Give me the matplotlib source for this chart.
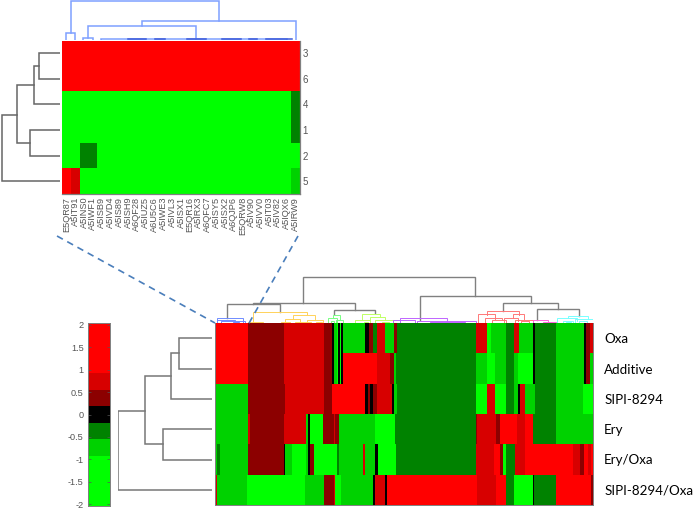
import numpy as np
import matplotlib
matplotlib.use('Agg')
import matplotlib.pyplot as plt
from matplotlib.colors import ListedColormap

W, H = 697, 508

# expression levels
R, M, D, K, G, N, B = 1.5, 0.7, 0.35, 0.0, -0.35, -0.7, -1.5

level_colors = ['#00ff00', '#00ff00', '#00ff00', '#00d200', '#008200', '#000000',
                '#8c0000', '#d70000', '#ff0000', '#ff0000', '#ff0000']

# zoomed heatmap
zoom_cols = ['E5QR87', 'A5IT91', 'A5INS0', 'A5IWF1', 'A5ISB9', 'A5IVD4', 'A5IS89', 'A5ISH9', 'A6QF28',
             'A5IUZ5', 'A6U5C6', 'A5IWE3', 'A5IVL3', 'A5ISX1', 'E5QR16', 'A5IRX3', 'A6QFC7', 'A5ISY5',
             'A5ISX2', 'A6QJP6', 'E5QRW8', 'A5IV90', 'A5IVV0', 'A5IT03', 'A5IV82', 'A5IQX6', 'A5IRW9']
zoom_rows = ['3', '6', '4', '1', '2', '5']
zoom_row3 = [R] * 27
zoom_row6 = [R] * 27
zoom_row4 = [B] * 26 + [G]
zoom_row1 = [B] * 26 + [G]
zoom_row2 = [B, B, G, G] + [B] * 23
zoom_row5 = [R, M] + [B] * 24 + [N]

# full heatmap, each row is (level, last column of the run)
full_rows = ['Oxa', 'Additive', 'SIPI-8294', 'Ery', 'Ery/Oxa', 'SIPI-8294/Oxa']
row_oxa = [(R, 33), (D, 69), (M, 109), (D, 117), (K, 119), (N, 122), (B, 123), (K, 125), (B, 126), (K, 128),
           (N, 150), (K, 154), (D, 158), (G, 162), (M, 170), (N, 179), (D, 182), (G, 261), (M, 272), (B, 276),
           (N, 291), (G, 299), (M, 304), (N, 318), (K, 320), (G, 341), (N, 369), (K, 371), (D, 375), (M, 378)]
row_add = [(R, 33), (D, 69), (M, 109), (D, 117), (K, 119), (N, 122), (B, 123), (K, 125), (B, 126), (K, 128),
           (R, 162), (M, 175), (D, 179), (N, 181), (G, 261), (N, 272), (B, 280), (N, 291), (G, 299), (N, 303),
           (B, 318), (K, 320), (G, 341), (N, 369), (K, 371), (D, 375), (N, 378)]
row_sipi = [(N, 33), (D, 70), (M, 109), (D, 117), (R, 150), (K, 153), (D, 155), (K, 158), (D, 162), (M, 177),
            (K, 179), (N, 182), (G, 261), (B, 272), (M, 280), (B, 291), (G, 299), (N, 303), (K, 305), (M, 310),
            (N, 320), (G, 341), (N, 368), (B, 378)]
row_ery = [(N, 33), (M, 35), (D, 69), (M, 91), (N, 93), (K, 95), (B, 108), (D, 119), (M, 120), (D, 124),
           (N, 160), (B, 180), (G, 261), (D, 262), (M, 281), (D, 285), (R, 302), (M, 310), (R, 318), (G, 341),
           (N, 378)]
row_eryoxa = [(N, 2), (G, 5), (N, 33), (D, 69), (K, 70), (N, 77), (B, 91), (N, 93), (K, 95), (D, 99), (B, 122),
              (G, 124), (N, 148), (M, 150), (N, 160), (K, 163), (B, 181), (G, 261), (M, 279), (R, 285), (D, 288),
              (B, 291), (G, 300), (M, 310), (R, 358), (M, 365), (D, 369), (R, 373), (M, 376), (R, 378)]
row_sipioxa = [(D, 1), (M, 2), (N, 32), (B, 90), (N, 109), (D, 119), (M, 120), (B, 126), (N, 158), (K, 160),
               (M, 170), (K, 172), (R, 262), (M, 281), (R, 291), (G, 299), (B, 318), (K, 319), (G, 341), (R, 376),
               (D, 378)]

# row dendrograms: (child a, height a, child b, height b, merge height)
zoom_side = [(0.5, 0, 1.5, 0, 20.7), (1.0, 20.7, 2.5, 0, 26), (3.5, 0, 4.5, 0, 30.3),
             (1.75, 26, 4.0, 30.3, 42.7), (2.9, 42.7, 5.5, 0, 58.3)]
full_side = [(0.5, 0, 1.5, 0, 32.7), (1.0, 32.7, 2.5, 0, 41.3), (3.5, 0, 4.5, 0, 48.7),
             (1.75, 41.3, 4.0, 48.7, 67.3), (2.9, 67.3, 5.5, 0, 93.7)]

# column dendrograms
zoom_top = [(1.0, 7, 17.8, 19, 39), (9.1, 14, 26.5, 0, 19), (2.95, 1.7, 15.2, 0.8, 14),
            (2.4, 0, 3.5, 0, 1.7), (0.5, 0, 1.5, 0, 7), (4.4, 0, 25.5, 0, 0.8)]
zoom_top_dark = [(7.5, 0.6, 9.5, 0.6, 0.6), (10.5, 0.6, 11.7, 0.6, 0.6), (14.2, 0.6, 16.3, 0.6, 0.6),
                 (18.2, 0.6, 20.3, 0.6, 0.6), (21.2, 0.6, 22.1, 0.6, 0.6), (23.1, 0.6, 26.1, 0.6, 0.6)]

full_gray = [(88, 20.3, 260, 27, 46.3), (38, 18.7, 140, 13, 20.3), (12, 5, 65, 11.3, 18.7), (119, 9, 160, 9.7, 13),
             (205, 3, 316, 19.7, 27), (288, 12.3, 343, 14, 19.7), (322, 3, 364, 7, 14)]
full_blue = [(2, 3.5, 28, 0, 5), (2, 0, 20, 2.5, 3.5), (6, 0, 30, 0, 2.5), (18, 0, 24, 0, 1)]
full_orange = [(38, 1, 92, 8, 11.3), (33, 0, 48, 0, 1), (78, 4, 100, 3.5, 8), (70, 1.5, 85, 1.5, 4),
               (92, 1.5, 108, 1.5, 3.5), (66, 0, 75, 0, 1.5), (80, 0, 90, 0, 1.5), (90, 0, 96, 0, 1.5),
               (101, 0, 107, 0, 1.5)]
full_green = [(118, 5, 125, 3, 8.5), (113, 0, 122, 0, 5), (121, 0, 128, 0, 3), (116, 0, 119, 0, 2.5)]
full_lime = [(147, 3.5, 165, 6, 9.5), (140, 0, 155, 0, 3.5), (155, 0, 170, 3, 6), (160, 0, 178, 0, 3),
             (149, 0, 153, 0, 1.5), (167, 0, 174, 0, 1.5)]
full_purple = [(185, 0, 232, 2.3, 4.7), (202, 0, 261, 0, 2.3), (178, 0, 200, 0, 3.5), (215, 0, 250, 0, 1)]
full_red = [(272, 8, 304, 8, 12.3), (263, 0, 280, 4.5, 9), (298, 5, 309, 4.5, 9), (270, 0, 287, 3, 5.5),
            (277, 0, 291, 0, 3), (289, 0, 303, 2.5, 5), (300, 0, 318, 0, 3.5), (306, 0, 314, 0, 2)]
full_magenta = [(318, 0, 333, 1, 3), (328, 0, 341, 0, 1)]
full_cyan = [(353, 5, 373, 4, 7), (342, 0, 362, 2.5, 5), (360, 0, 378, 0, 4), (348, 0, 358, 0, 2.5),
             (364, 0, 372, 0, 2), (351, 0, 356, 0, 1)]

# colorbar
bar_ticks = [2, 1.5, 1, 0.5, 0, -0.5, -1, -1.5, -2]
bar_labels = ['2', '1.5', '1', '0.5', '0', '-0.5', '-1', '-1.5', '-2']


def add_px_axes(x0, y0, x1, y1):
    return fig.add_axes([x0 / W, 1 - y1 / H, (x1 - x0) / W, (y1 - y0) / H])


def expand_row(runs):
    out = []
    start = 0
    for val, end in runs:
        out += [val] * (end - start)
        start = end
    return out


def draw_top(ax, merges, color, lw=0.9):
    for x1, h1, x2, h2, top in merges:
        ax.plot([x1, x1, x2, x2], [h1, top, top, h2], color=color, lw=lw, solid_joinstyle='miter')


def draw_side(ax, merges, color, lw=1.1):
    for y1, h1, y2, h2, top in merges:
        ax.plot([h1, top, top, h2], [y1, y1, y2, y2], color=color, lw=lw, solid_joinstyle='miter')


fig = plt.figure(figsize=(W / 100, H / 100), dpi=100)
fig.set_facecolor('white')
plt.rcParams['font.family'] = ['Liberation Sans', 'DejaVu Sans']
cmap = ListedColormap(level_colors)
gray_txt = '#555555'
frame = '#808080'

# zoomed heatmap
ax1 = add_px_axes(62, 40.5, 300, 194)
zoom_data = np.array([zoom_row3, zoom_row6, zoom_row4, zoom_row1, zoom_row2, zoom_row5])
ax1.imshow(zoom_data, cmap=cmap, vmin=-2, vmax=2, aspect='auto', interpolation='nearest')
ax1.set_xticks(range(len(zoom_cols)))
ax1.set_xticklabels(zoom_cols, rotation=90, fontsize=6.6, color=gray_txt)
ax1.yaxis.tick_right()
ax1.set_yticks(range(len(zoom_rows)))
ax1.set_yticklabels(zoom_rows, fontsize=7, color=gray_txt)
ax1.tick_params(length=0, pad=2)
for s in ax1.spines.values():
    s.set_color(frame)
    s.set_linewidth(0.9)
ax1.spines['top'].set_visible(False)
ax1.spines['left'].set_visible(False)

ax1s = add_px_axes(0, 40.5, 60, 194)
draw_side(ax1s, zoom_side, '#666666')
ax1s.set_xlim(60, 0)
ax1s.set_ylim(6, 0)
ax1s.axis('off')

ax1t = add_px_axes(62, 0, 300, 40)
draw_top(ax1t, zoom_top, '#7fa0ff', lw=1.1)
draw_top(ax1t, zoom_top_dark, '#3c5ad8', lw=1.1)
ax1t.set_xlim(0, 27)
ax1t.set_ylim(0, 40)
ax1t.axis('off')

# full heatmap
ax2 = add_px_axes(215, 323, 593, 505)
full_data = np.array([expand_row(r) for r in [row_oxa, row_add, row_sipi, row_ery, row_eryoxa, row_sipioxa]])
ax2.imshow(full_data, cmap=cmap, vmin=-2, vmax=2, aspect='auto', interpolation='nearest')
ax2.yaxis.tick_right()
ax2.set_xticks([])
ax2.set_yticks(range(len(full_rows)))
ax2.set_yticklabels(full_rows, fontsize=9.6, color='black', family=['Lato', 'DejaVu Sans'])
ax2.tick_params(length=0, pad=8)
for s in ax2.spines.values():
    s.set_color(frame)
    s.set_linewidth(0.7)
ax2.spines['top'].set_visible(False)

ax2s = add_px_axes(118, 323, 212, 505)
draw_side(ax2s, full_side, '#777777')
ax2s.set_xlim(94, 0)
ax2s.set_ylim(6, 0)
ax2s.axis('off')

ax2t = add_px_axes(215, 270, 593, 323)
draw_top(ax2t, full_gray, '#808080', lw=1.0)
draw_top(ax2t, full_blue, '#6f8cff', lw=0.7)
draw_top(ax2t, full_orange, '#ffd25a', lw=0.7)
draw_top(ax2t, full_green, '#78ff82', lw=0.7)
draw_top(ax2t, full_lime, '#beff64', lw=0.7)
draw_top(ax2t, full_purple, '#be64ff', lw=0.7)
draw_top(ax2t, full_red, '#ff7878', lw=0.7)
draw_top(ax2t, full_magenta, '#ff64dc', lw=0.7)
draw_top(ax2t, full_cyan, '#78ffff', lw=0.7)
ax2t.set_xlim(0, 378)
ax2t.set_ylim(0, 53)
ax2t.axis('off')

# colorbar
ax3 = add_px_axes(88, 323, 110, 506)
ax3.imshow(np.linspace(2, -2, 11).reshape(-1, 1), cmap=cmap, vmin=-2, vmax=2, aspect='auto',
           interpolation='nearest', extent=[0, 1, -2.04, 2.04])
ax3.set_xticks([])
ax3.set_yticks(bar_ticks)
ax3.set_yticklabels(bar_labels, fontsize=6.6, color=gray_txt)
ax3.tick_params(axis='y', direction='in', length=2, width=0.5, color='#555555', pad=3, right=True)
for s in ax3.spines.values():
    s.set_color(frame)
    s.set_linewidth(0.7)

# dashed lines from the full heatmap up to the zoomed part
over = fig.add_axes([0, 0, 1, 1], facecolor='none')
over.plot([57, 215], [236, 323], color='#4a7ebb', lw=1.2, ls=(0, (4, 3)))
over.plot([298, 248], [236, 325], color='#4a7ebb', lw=1.2, ls=(0, (4, 3)))
over.set_xlim(0, W)
over.set_ylim(H, 0)
over.axis('off')

plt.savefig('out.png', dpi=100)
plt.close()
